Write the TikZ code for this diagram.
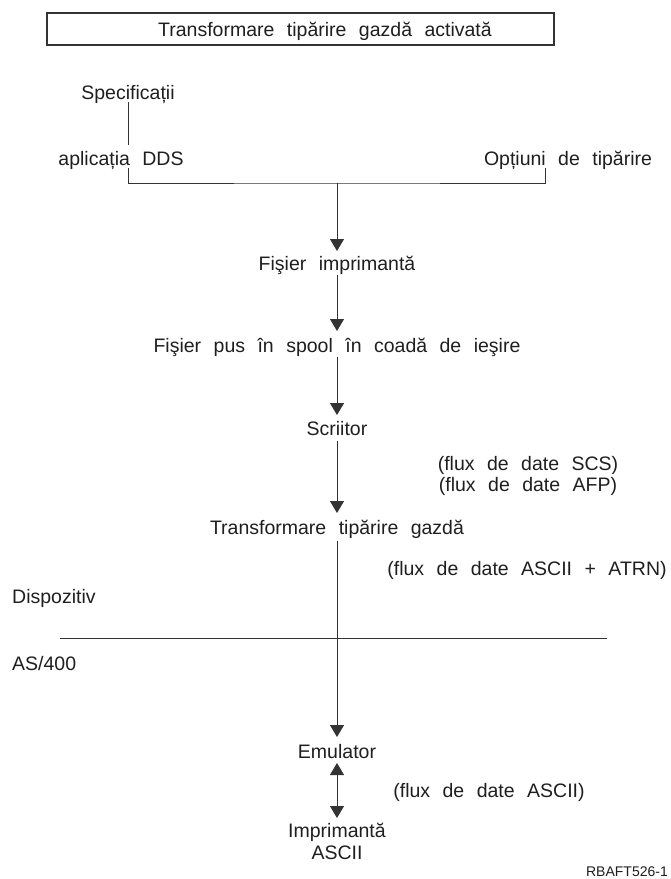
\documentclass[tikz,border=0pt]{standalone}
\usepackage{fontspec}
\setmainfont{Liberation Sans}[WordSpace=2.3]
\usetikzlibrary{arrows.meta}
\begin{document}
\begin{tikzpicture}[x=1pt,y=-1pt,
  lbl/.style={inner sep=0pt,anchor=base,font=\fontsize{19.5}{23}\selectfont,text=black!88},
  wire/.style={line width=0.9pt,black!80},
  flow/.style={wire,-{Triangle[width=14pt,length=12pt]}},
  both/.style={wire,{Triangle[width=14pt,length=12pt]}-{Triangle[width=14pt,length=12pt]}}]
\useasboundingbox[fill=white] (0,0) rectangle (670,879);
% header box with its title
\node[draw,line width=1.2pt,black!80,minimum width=507pt,minimum height=32pt,inner sep=0pt] (hdr) at (300.5,29) {};
\node[lbl] (hdrtxt) at (325,36) {Transformare tipărire gazdă activată};
% inputs
\node[lbl] (spec) at (128,99) {Specificații};
\node[lbl] (dds) at (121,165) {aplicația DDS};
\node[lbl] (opt) at (568,165) {Opțiuni de tipărire};
\coordinate (specB) at (128,102);
\coordinate (ddsT) at (128,145);
\coordinate (ddsB) at (128,168);
\coordinate (optB) at (545,168);
\coordinate (join) at (337,183);
\draw[wire] (specB) -- (ddsT);
\draw[wire] (ddsB) |- (join) -| (optB);
% main chain
\node[lbl] (pf) at (337,270) {Fişier imprimantă};
\node[lbl] (spool) at (337,352) {Fişier pus în spool în coadă de ieşire};
\node[lbl] (wr) at (337,435) {Scriitor};
\node[lbl] (scs) at (528,470) {(flux de date SCS)};
\node[lbl] (afp) at (528,491) {(flux de date AFP)};
\node[lbl] (hpt) at (337,534) {Transformare tipărire gazdă};
\node[lbl] (atrn) at (527,575) {(flux de date ASCII + ATRN)};
\node[lbl,anchor=base west] (dev) at (12,603) {Dispozitiv};
\node[lbl,anchor=base west] (as4) at (12,670) {AS/400};
\coordinate (sepL) at (60,638);
\coordinate (sepR) at (607,638);
\draw[wire] (sepL) -- (sepR);
\node[lbl] (emu) at (337,758) {Emulator};
\node[lbl] (ascf) at (489,797) {(flux de date ASCII)};
\node[lbl] (prn) at (337,837) {Imprimantă};
\node[lbl] (prn2) at (337,859) {ASCII};
\node[lbl,anchor=base east,font=\fontsize{14}{16}\selectfont] (code) at (668,876) {RBAFT526-1};
\coordinate (pfB) at (337,275);
\coordinate (spT) at (337,331);
\coordinate (spB) at (337,357);
\coordinate (wrT) at (337,415);
\coordinate (wrB) at (337,441);
\coordinate (hpT) at (337,513);
\coordinate (hpB) at (337,541);
\coordinate (emT) at (337,737);
\coordinate (emB) at (337,763);
\coordinate (prT) at (337,818);
\draw[flow] (join) -- (337,251);
\draw[flow] (pfB) -- (spT);
\draw[flow] (spB) -- (wrT);
\draw[flow] (wrB) -- (hpT);
\draw[flow] (hpB) -- (emT);
\draw[both] (emB) -- (prT);
\end{tikzpicture}
\end{document}
